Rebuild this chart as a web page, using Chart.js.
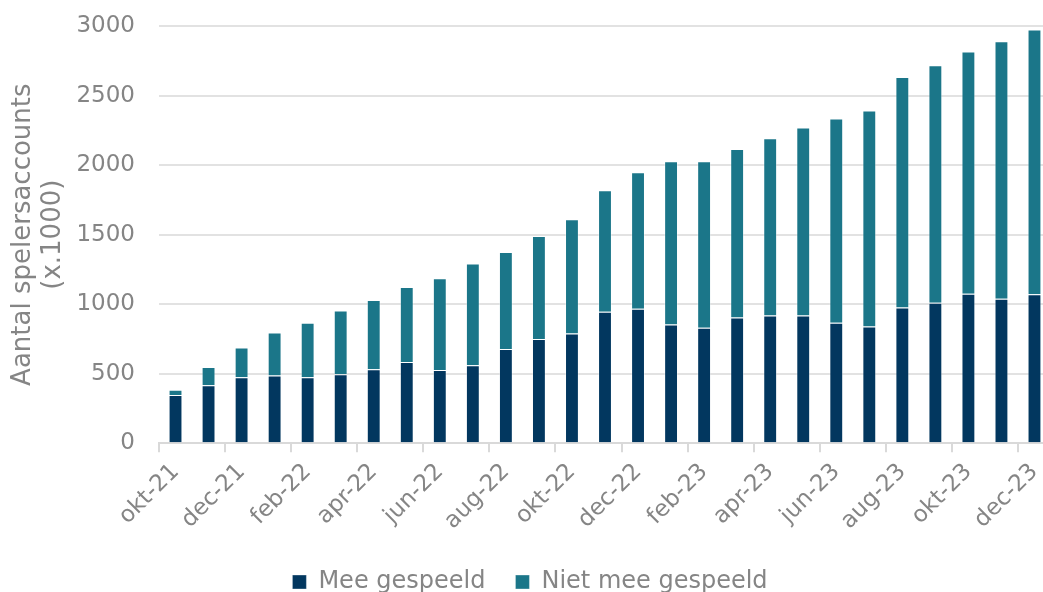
<!DOCTYPE html>
<html>
<head>
<meta charset="utf-8">
<script src="https://cdn.jsdelivr.net/npm/chart.js@4/dist/chart.umd.min.js"></script>
<style>
  html, body { margin: 0; padding: 0; background: #fff; overflow: hidden; }
  #spelersChart { display: block; }
</style>
</head>
<body>
<canvas id="spelersChart" width="1060" height="592"></canvas>
<script>
const months = ['okt-21', 'nov-21', 'dec-21', 'jan-22', 'feb-22', 'mrt-22', 'apr-22', 'mei-22', 'jun-22',
    'jul-22', 'aug-22', 'sep-22', 'okt-22', 'nov-22', 'dec-22', 'jan-23', 'feb-23', 'mrt-23',
    'apr-23', 'mei-23', 'jun-23', 'jul-23', 'aug-23', 'sep-23', 'okt-23', 'nov-23', 'dec-23'];

// x1000 accounts
const meeGespeeld = [348, 418, 475, 488, 475, 497, 533, 584, 527, 562, 678, 750, 789, 945, 967, 854, 830, 904,
    919, 919, 866, 839, 977, 1010, 1075, 1039, 1071];
const nietMeeGespeeld = [38, 130, 213, 308, 391, 458, 497, 539, 659, 730, 698, 740, 821, 874, 982, 1173, 1197, 1211,
    1274, 1351, 1469, 1554, 1657, 1708, 1741, 1852, 1904];

const textColor = '#858585';
const gridColor = '#e2e2e2';

document.addEventListener('DOMContentLoaded', function() {
    const ctx = document.getElementById('spelersChart').getContext('2d');
    new Chart(ctx, {
        type: 'bar',
        data: {
            labels: months,
            datasets: [{
                label: 'Mee gespeeld',
                data: meeGespeeld,
                backgroundColor: '#02375f',
                borderColor: 'rgba(255,255,255,0.35)',
                borderWidth: 1
            }, {
                label: 'Niet mee gespeeld',
                data: nietMeeGespeeld,
                backgroundColor: '#1b7689',
                borderColor: 'rgba(255,255,255,0.35)',
                borderWidth: 1
            }]
        },
        options: {
            responsive: false,
            animation: false,
            layout: { padding: { top: 26, right: 0, bottom: -12, left: 0 } },
            datasets: { bar: { barPercentage: 0.42, categoryPercentage: 1 } },
            plugins: {
                tooltip: { enabled: false },
                legend: {
                    position: 'bottom',
                    labels: {
                        color: textColor,
                        font: { family: 'DejaVu Sans', size: 24 },
                        boxWidth: 14,
                        boxHeight: 14,
                        padding: 30,
                        useBorderRadius: false
                    }
                }
            },
            scales: {
                x: {
                    stacked: true,
                    offset: true,
                    border: { display: true, color: '#d9d9d9', width: 2 },
                    grid: {
                        offset: true,
                        drawOnChartArea: false,
                        drawTicks: true,
                        tickLength: 9,
                        lineWidth: 2,
                        color: (c) => (c.index % 2 === 0 ? '#d9d9d9' : 'rgba(0,0,0,0)')
                    },
                    ticks: {
                        autoSkip: false,
                        maxRotation: 45,
                        minRotation: 45,
                        padding: 6,
                        color: textColor,
                        font: { family: 'DejaVu Sans', size: 23 },
                        callback: function(value, index) {
                            return index % 2 === 0 ? months[index] : '';
                        }
                    },
                    afterFit: function(scale) { scale.height -= 1; }
                },
                y: {
                    stacked: true,
                    min: 0,
                    max: 3000,
                    border: { display: false },
                    grid: { color: gridColor, lineWidth: 2, drawTicks: true, tickLength: 20, tickColor: 'rgba(0,0,0,0)' },
                    ticks: {
                        stepSize: 500,
                        padding: 4,
                        color: textColor,
                        font: { family: 'DejaVu Sans', size: 23 },
                        callback: (v) => String(v)
                    },
                    title: {
                        display: true,
                        text: ['Aantal spelersaccounts', '(x.1000)'],
                        color: textColor,
                        font: { family: 'DejaVu Sans', size: 26, lineHeight: 1.15 },
                        padding: { top: 8, bottom: 0 }
                    },
                    afterFit: function(scale) { scale.width = 159; }
                }
            }
        }
    });
});
</script>
</body>
</html>
